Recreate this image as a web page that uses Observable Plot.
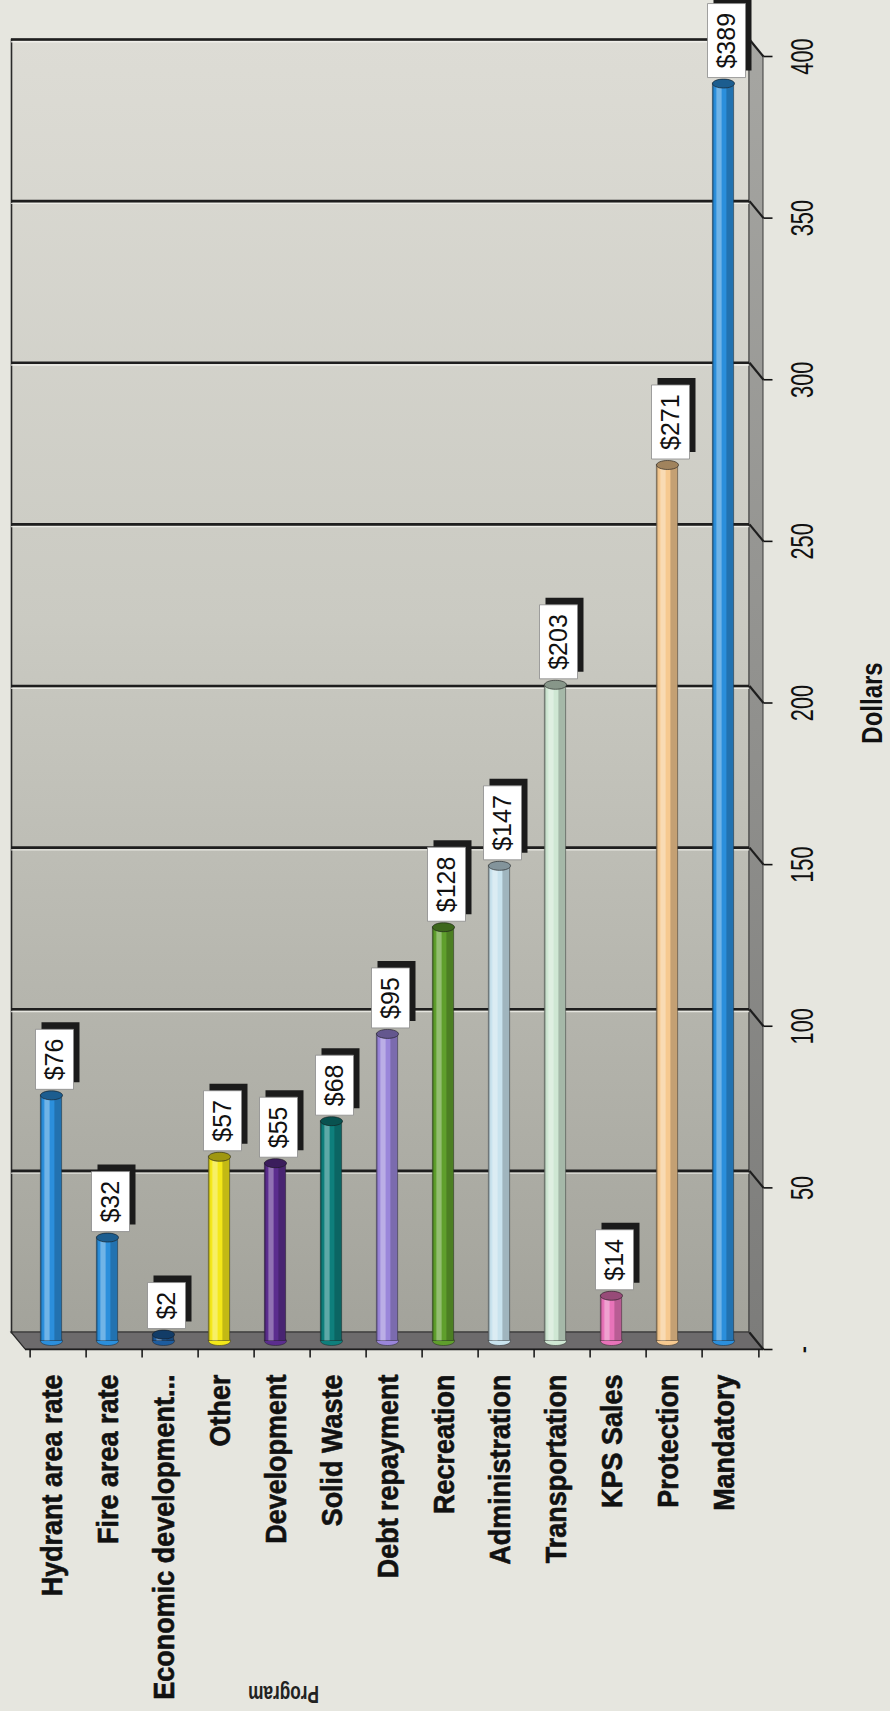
<!DOCTYPE html>
<html>
<head>
<meta charset="utf-8">
<script src="https://cdn.jsdelivr.net/npm/d3@7"></script>
<script src="https://cdn.jsdelivr.net/npm/@observablehq/plot@0.6"></script>
<style>
  html, body { margin: 0; padding: 0; background: #e6e6df; }
  #chart svg { display: block; }
</style>
</head>
<body>
<div id="chart"></div>
<script>
// ---- data ----
const categories = ["Hydrant area rate", "Fire area rate", "Economic development...", "Other", "Development",
  "Solid Waste", "Debt repayment", "Recreation", "Administration", "Transportation", "KPS Sales", "Protection", "Mandatory"];
const values = [76, 32, 2, 57, 55, 68, 95, 128, 147, 203, 14, 271, 389];
const palette = ["#2b8fdc", "#2b8fdc", "#1d5c9e", "#f4e81a", "#5b2d8e", "#0e7f7c", "#9a86da",
  "#5f9f2c", "#c9e3ee", "#cfe7d3", "#e873b9", "#f6c990", "#2b8fdc"];
const yTicks = [0, 50, 100, 150, 200, 250, 300, 350, 400];
const yTickLabels = ["-", "50", "100", "150", "200", "250", "300", "350", "400"];
const yTitle = "Dollars";
const xTitle = "Program";

const data = categories.map((name, i) => ({name, value: values[i], label: "$" + values[i]}));

// ---- layout ----
const W = 890, H = 1711;
const ml = 25, mr = 127, mt = 56, mb = 362;
const DX = -14, DY = -17;           // 3D depth offset (back wall)
const BX = DX / 2, BY = DY / 2;     // bars sit mid-depth
const bw = (W - ml - mr) / categories.length;
const barW = 22;
const inset = (bw - barW) / 2;

const sans = "'Liberation Sans', Arial, Helvetica, sans-serif";

// custom symbols
const ellipse = (rx, ry) => ({
  draw(ctx) {
    const k = 0.5523;
    ctx.moveTo(rx, 0);
    ctx.bezierCurveTo(rx, ry * k, rx * k, ry, 0, ry);
    ctx.bezierCurveTo(-rx * k, ry, -rx, ry * k, -rx, 0);
    ctx.bezierCurveTo(-rx, -ry * k, -rx * k, -ry, 0, -ry);
    ctx.bezierCurveTo(rx * k, -ry, rx, -ry * k, rx, 0);
    ctx.closePath();
  }
});
const box = {
  draw(ctx, size) {
    const h = 2 * Math.sqrt(size / Math.PI);
    ctx.rect(-19, -h, 38, h);
  }
};
const segment = (x, y) => ({ draw(ctx) { ctx.moveTo(0, 0); ctx.lineTo(x, y); } });
const boxHalf = d => (d.label.length * 14 + 18) / 2;

const cap = ellipse(11, 4.5);

const plot = Plot.plot({
  width: W, height: H,
  marginLeft: ml, marginRight: mr, marginTop: mt, marginBottom: mb,
  style: {background: "transparent", overflow: "visible", fontFamily: sans},
  x: {type: "band", domain: categories, padding: 0, axis: null},
  y: {domain: [0, 400], axis: null},
  color: {domain: categories, range: palette},
  r: {type: "linear", domain: [0, 100], range: [0, 100]},
  marks: [
    // back wall
    Plot.frame({fill: "#c8c8c0", stroke: "#2a2a2a", strokeWidth: 1.6, dx: DX, dy: DY, ariaLabel: "backwall"}),
    // gridlines on back wall (groove: light line under dark line)
    Plot.ruleY(yTicks.filter(d => d > 0), {y: d => d, dx: DX, dy: DY + 2.2, stroke: "#f6f6f0", strokeOpacity: 0.75, strokeWidth: 1.4}),
    Plot.ruleY(yTicks.filter(d => d > 0), {y: d => d, dx: DX, dy: DY, stroke: "#1e1e1e", strokeWidth: 2.6}),

    // cylinders
    Plot.dot(data, {x: "name", y: d => 0, dx: BX, dy: BY, symbol: cap, fill: "name", stroke: "#222", strokeOpacity: 0.5, strokeWidth: 1}),
    Plot.barY(data, {x: "name", y1: d => 0, y2: "value", dx: BX, dy: BY, fill: "name", stroke: "#222", strokeOpacity: 0.45, strokeWidth: 1, insetLeft: inset, insetRight: inset}),
    Plot.barY(data, {x: "name", y1: d => 0, y2: "value", dx: BX, dy: BY, fill: "black", fillOpacity: 0.22, insetLeft: inset, insetRight: inset + barW - 2.5}),
    Plot.barY(data, {x: "name", y1: d => 0, y2: "value", dx: BX, dy: BY, fill: "white", fillOpacity: 0.33, insetLeft: inset + 4, insetRight: inset + barW - 10}),
    Plot.barY(data, {x: "name", y1: d => 0, y2: "value", dx: BX, dy: BY, fill: "black", fillOpacity: 0.2, insetLeft: inset + 14, insetRight: inset}),
    Plot.dot(data, {x: "name", y: "value", dx: BX, dy: BY, symbol: cap, fill: "name", stroke: "#222", strokeOpacity: 0.6, strokeWidth: 1}),
    Plot.dot(data, {x: "name", y: "value", dx: BX, dy: BY, symbol: cap, fill: "black", fillOpacity: 0.35, stroke: "none"}),

    // value labels: shadow, box, text
    Plot.dot(data, {x: "name", y: "value", r: boxHalf, symbol: box, fill: "#1b1b1b", stroke: "none", dx: BX + 3 + 6, dy: BY - 6 - 7}),
    Plot.dot(data, {x: "name", y: "value", r: boxHalf, symbol: box, fill: "white", stroke: "#8a8a8a", strokeWidth: 0.8, dx: BX + 3, dy: BY - 6}),
    Plot.text(data, {x: "name", y: "value", text: "label", rotate: -90, textAnchor: "start", fontSize: 25, fill: "#111",
      fontFamily: sans, dx: BX + 3, dy: BY - 6 - 9}),

    // right side wall diagonals and value axis
    Plot.dot(yTicks, {y: d => d, frameAnchor: "right", symbol: segment(DX, DY), fill: "none", stroke: "#1e1e1e", strokeWidth: 2.2}),
    Plot.dot(yTicks, {y: d => d, frameAnchor: "right", symbol: segment(9, 0), fill: "none", stroke: "#111", strokeWidth: 1.6}),
    Plot.text(yTicks, {y: d => d, text: (d, i) => yTickLabels[i], frameAnchor: "right", textAnchor: "middle", dx: 39, rotate: -90,
      fontSize: 32, fontFamily: sans, fill: "#111"}),
    Plot.text([yTitle], {text: d => d, frameAnchor: "right", textAnchor: "middle", dx: 109, rotate: -90, fontSize: 30, fontWeight: "bold",
      fontFamily: sans, fill: "#111"}),

    // category axis
    Plot.ruleY([0], {y: d => d, stroke: "#1e1e1e", strokeWidth: 1.6}),
    Plot.dot(categories, {x: d => d, y: d => 0, dx: -bw / 2, symbol: segment(0, 8), fill: "none", stroke: "#111", strokeWidth: 1.5}),
    Plot.dot(categories.slice(-1), {x: d => d, y: d => 0, dx: bw / 2, symbol: segment(0, 8), fill: "none", stroke: "#111", strokeWidth: 1.5}),
    Plot.text(categories, {x: d => d, text: d => d, frameAnchor: "bottom", dx: 3, dy: 25, rotate: -90, textAnchor: "end",
      fontSize: 29, fontWeight: "bold", fontFamily: sans, fill: "#111", stroke: "#111", strokeWidth: 0.6}),
    Plot.text([xTitle], {text: d => d, frameAnchor: "bottom-left", textAnchor: "middle", dx: 258, dy: 336, rotate: 180, fontSize: 23,
      fontWeight: "bold", fontFamily: sans, fill: "#222"})
  ]
});

// ---- post-styling & 3D decoration (floor, side wall) with the plot's own y scale ----
const svg = d3.select(plot);
const defs = svg.insert("defs", ":first-child");
const wall = defs.append("linearGradient").attr("id", "wallGrad").attr("x1", 0).attr("y1", 0).attr("x2", 0).attr("y2", 1);
wall.append("stop").attr("offset", "0%").attr("stop-color", "#dddcd5");
wall.append("stop").attr("offset", "45%").attr("stop-color", "#cacac2");
wall.append("stop").attr("offset", "100%").attr("stop-color", "#a3a39b");
const side = defs.append("linearGradient").attr("id", "sideGrad").attr("x1", 0).attr("y1", 0).attr("x2", 0).attr("y2", 1);
side.append("stop").attr("offset", "0%").attr("stop-color", "#a6a6a2");
side.append("stop").attr("offset", "100%").attr("stop-color", "#7c7c7a");

let wallNode = svg.select('[aria-label="backwall"]').node();
if (wallNode) {
  if (wallNode.tagName.toLowerCase() === "rect") d3.select(wallNode).attr("fill", "url(#wallGrad)");
  else d3.select(wallNode).selectAll("rect").attr("fill", "url(#wallGrad)");
  while (wallNode.parentNode && wallNode.parentNode !== plot) wallNode = wallNode.parentNode;
}

// condensed look for axis texts (narrow face not installed)
const squeezeMap = new Map();
yTickLabels.forEach(t => squeezeMap.set(t, 0.68));
squeezeMap.set(yTitle, 0.8);
squeezeMap.set(xTitle, 0.75);
categories.forEach(t => squeezeMap.set(t, 0.93));
svg.selectAll("text").each(function() {
  const t = d3.select(this);
  const k = squeezeMap.get(t.text());
  const tr = t.attr("transform");
  if (k && tr && tr.includes("rotate")) t.attr("transform", tr + ` scale(${k},1)`);
});

const yS = plot.scale("y");
const y0 = yS.apply(0), y4 = yS.apply(400);
const xL = ml, xR = W - mr;
const deco = d3.create("svg:g");
deco.append("polygon")
  .attr("points", [[xL + DX, y0 + DY], [xR + DX, y0 + DY], [xR, y0], [xL, y0]].map(p => p.join(",")).join(" "))
  .attr("fill", "#6d6b6c").attr("stroke", "#2a2a2a").attr("stroke-width", 1.2);
deco.append("polygon")
  .attr("points", [[xR + DX, y4 + DY], [xR, y4], [xR, y0], [xR + DX, y0 + DY]].map(p => p.join(",")).join(" "))
  .attr("fill", "url(#sideGrad)").attr("stroke", "#3a3a3a").attr("stroke-width", 1);
plot.insertBefore(deco.node(), wallNode ? wallNode.nextSibling : plot.firstChild);

document.getElementById("chart").appendChild(plot);
</script>
</body>
</html>
